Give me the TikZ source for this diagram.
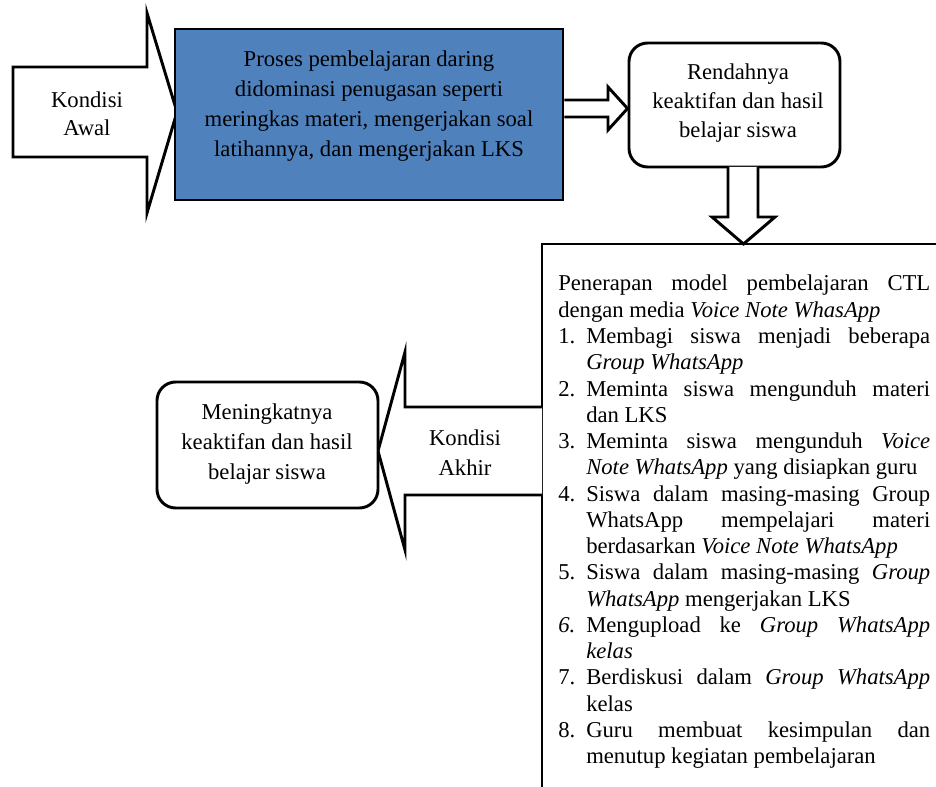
\documentclass[tikz,border=0pt]{standalone}
\usepackage{fontspec}
\setmainfont{Liberation Serif}
\usetikzlibrary{calc}
\definecolor{boxblue}{RGB}{79,129,189}
\newcommand\litem[2]{\par\hangindent=21pt\hangafter=1\noindent\makebox[21pt][l]{#1}#2\par}
\tikzset{
  outl/.style={draw=black, line width=2.2pt, line join=miter},
  blockarrow/.style={outl, fill=white},
  txt/.style={align=center, inner sep=0pt, text=black},
}
\begin{document}
\begin{tikzpicture}[x=0.75pt,y=-0.75pt]
\useasboundingbox (0,0) rectangle (936,787);

% Kondisi Awal block arrow
\draw[blockarrow] (13,67) -- (147,67) -- (147,13) -- (177,112) -- (147,213) -- (147,157) -- (13,157) -- cycle;
\node[txt, font=\fontsize{17pt}{21pt}\selectfont] (awal) at (87,114) {Kondisi\\Awal};

% blue box
\node[outl, fill=boxblue, minimum width=291pt, minimum height=128.25pt, inner sep=0pt] (blue) at (369,114.5) {};
\node[txt, font=\fontsize{17pt}{22.5pt}\selectfont] (bluetxt) at (369,106)
  {Proses pembelajaran daring\\didominasi penugasan seperti\\meringkas materi, mengerjakan soal\\latihannya, dan mengerjakan LKS};

% Rendahnya box
\node[outl, rounded corners=14pt, minimum width=158.25pt, minimum height=93pt, inner sep=0pt] (rend) at (734.5,105) {};
\node[txt, font=\fontsize{17pt}{21.75pt}\selectfont] (rendtxt) at (738,103)
  {Rendahnya\\keaktifan dan hasil\\belajar siswa};

% arrow blue -> rend
\draw[blockarrow] (blue.east |- 0,100) -- (608,100) -- (608,87) -- (rend.west |- 0,108.5) -- (608,130) -- (608,117) -- (blue.east |- 0,117);

% big box (cropped)
\coordinate (bigtl) at (542,244);
\draw[outl] (945,244) -- (bigtl) -- (542,795);

% arrow rend -> big
\draw[blockarrow] (728,167) -- (728,217) -- (712,217) -- (743.5,244) -- (775,217) -- (758,217) -- (758,167);

% list text
\node[anchor=north west, inner sep=0pt, text width=279pt, align=justify,
      font=\fontsize{17pt}{19.7pt}\selectfont] (list) at (558,275) {%
Penerapan model pembelajaran CTL\linebreak dengan media \textit{Voice Note WhasApp}\par
\litem{1.}{Membagi siswa menjadi beberapa\linebreak \textit{Group WhatsApp}}
\litem{2.}{Meminta siswa mengunduh materi\linebreak dan LKS}
\litem{3.}{Meminta siswa mengunduh \textit{Voice}\linebreak \textit{Note WhatsApp} yang disiapkan guru}
\litem{4.}{Siswa dalam masing-masing Group\linebreak WhatsApp mempelajari materi\linebreak berdasarkan \textit{Voice Note WhatsApp}}
\litem{5.}{Siswa dalam masing-masing \textit{Group}\linebreak \textit{WhatsApp} mengerjakan LKS}
\litem{\textit{6.}}{Mengupload ke \textit{Group WhatsApp}\linebreak \textit{kelas}}
\litem{7.}{Berdiskusi dalam \textit{Group WhatsApp}\linebreak kelas}
\litem{8.}{Guru membuat kesimpulan dan\linebreak menutup kegiatan pembelajaran}%
};

% Kondisi Akhir block arrow
\draw[blockarrow] (bigtl |- 0,407) -- (405,407) -- (405,352) -- (378,451) -- (405,550) -- (405,495) -- (bigtl |- 0,495);
\node[txt, font=\fontsize{17pt}{22.5pt}\selectfont] (akhir) at (465,453) {Kondisi\\Akhir};

% Meningkatnya box
\node[outl, fill=white, rounded corners=14pt, minimum width=165.75pt, minimum height=94.5pt, inner sep=0pt] (mening) at (267.5,445) {};
\node[txt, font=\fontsize{17pt}{22.5pt}\selectfont] (meningtxt) at (267,444)
  {Meningkatnya\\keaktifan dan hasil\\belajar siswa};
\end{tikzpicture}
\end{document}
